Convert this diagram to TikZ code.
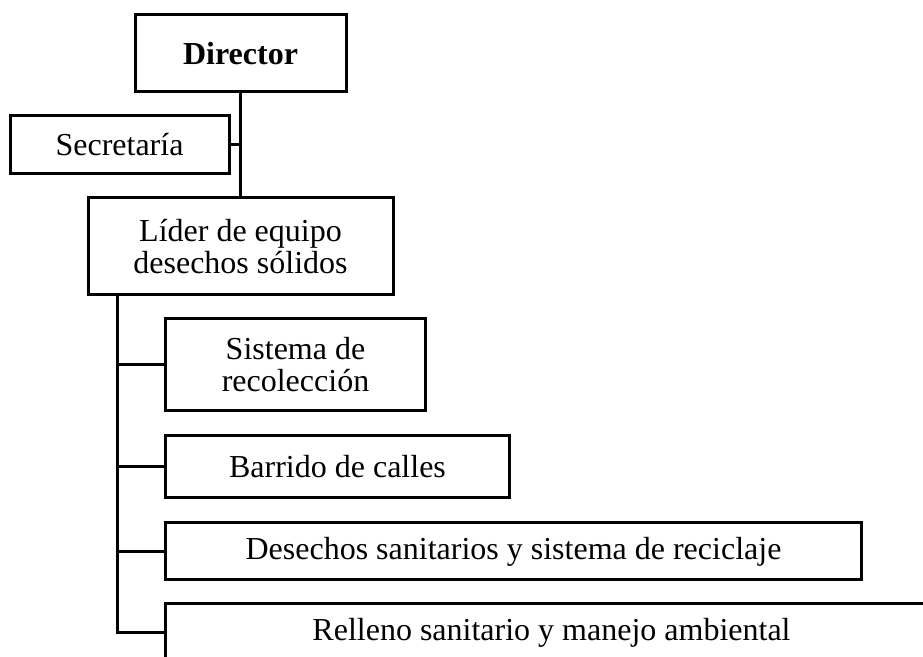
\documentclass[tikz,border=0pt]{standalone}
\usepackage{fontspec}
\setmainfont{Liberation Serif}
\usetikzlibrary{positioning}

\begin{document}
\begin{tikzpicture}[
    x=0.5pt, y=-0.5pt,
    box/.style={draw, line width=1.5pt, rectangle, inner sep=0pt, align=center, font=\fontsize{16}{16}\selectfont},
    line/.style={line width=1.5pt}
]
\useasboundingbox (0,0) rectangle (923,657);
\clip (0,0) rectangle (923,657);

\node[box, minimum width=105.5pt, minimum height=38.5pt] (dir) at (240.5,53.5) {\textbf{Director}};
\node[box, minimum width=109.5pt, minimum height=29pt] (sec) at (119.5,145) {Secretaría};
\node[box, minimum width=152.5pt, minimum height=48.5pt] (lider) at (240.5,246.5) {Líder de equipo\\desechos sólidos};

% areas
\node[box, anchor=west, minimum width=130pt, minimum height=46pt] (sis) at (164,365) {Sistema de\\recolección};
\node[box, anchor=west, minimum width=172pt, minimum height=31pt] (bar) at (164,467) {Barrido de calles};
\node[box, anchor=west, minimum width=348pt, minimum height=28.5pt] (des) at (164,551.5) {Desechos sanitarios y sistema de reciclaje};
\node[box, anchor=west, minimum width=386pt, minimum height=29pt] (rel) at (164,633) {Relleno sanitario y manejo ambiental};

\coordinate (trunk) at ([xshift=15.5pt]lider.south west);

\draw[line] (dir.south) -- (lider.north);
\draw[line] (sec.east) -- (sec.east -| dir.south);
\draw[line] (trunk) |- (rel.west);
\draw[line] (trunk |- sis.west) -- (sis.west);
\draw[line] (trunk |- bar.west) -- (bar.west);
\draw[line] (trunk |- des.west) -- (des.west);
\end{tikzpicture}
\end{document}
